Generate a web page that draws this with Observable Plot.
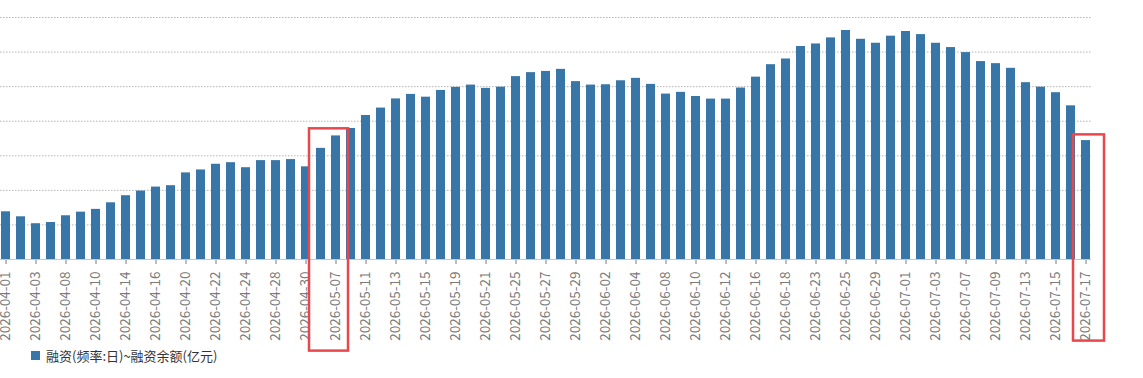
<!DOCTYPE html>
<html>
<head>
<meta charset="utf-8">
<script src="https://cdn.jsdelivr.net/npm/d3@7"></script>
<script src="https://cdn.jsdelivr.net/npm/@observablehq/plot@0.6"></script>
<style>
  html, body { margin: 0; padding: 0; background: #fff; }
  body { width: 1143px; height: 378px; overflow: hidden; font-family: "Noto Sans CJK SC", "Noto Sans", sans-serif; }
  #chart svg { display: block; }
  .legend { height: 30px; display: flex; align-items: center; padding-left: 31px; font-size: 13px; color: #333; }
  .legend .sw { width: 9px; height: 9px; background: #3776a6; margin-right: 6px; }
</style>
</head>
<body>
<div id="chart"></div>
<div class="legend"><span class="sw"></span><span>融资(频率:日)~融资余额(亿元)</span></div>
<script>
const dates = [
  "2026-04-01","2026-04-02","2026-04-03","2026-04-07","2026-04-08","2026-04-09","2026-04-10",
  "2026-04-13","2026-04-14","2026-04-15","2026-04-16","2026-04-17","2026-04-20","2026-04-21",
  "2026-04-22","2026-04-23","2026-04-24","2026-04-27","2026-04-28","2026-04-29","2026-04-30",
  "2026-05-06","2026-05-07","2026-05-08","2026-05-11","2026-05-12","2026-05-13","2026-05-14",
  "2026-05-15","2026-05-18","2026-05-19","2026-05-20","2026-05-21","2026-05-22","2026-05-25",
  "2026-05-26","2026-05-27","2026-05-28","2026-05-29","2026-06-01","2026-06-02","2026-06-03",
  "2026-06-04","2026-06-05","2026-06-08","2026-06-09","2026-06-10","2026-06-11","2026-06-12",
  "2026-06-15","2026-06-16","2026-06-17","2026-06-18","2026-06-22","2026-06-23","2026-06-24",
  "2026-06-25","2026-06-26","2026-06-29","2026-06-30","2026-07-01","2026-07-02","2026-07-03",
  "2026-07-06","2026-07-07","2026-07-08","2026-07-09","2026-07-10","2026-07-13","2026-07-14",
  "2026-07-15","2026-07-16","2026-07-17"
];
const values = [
  24276, 24247, 24207, 24214, 24253, 24274, 24290,
  24328, 24369, 24396, 24419, 24427, 24501, 24518,
  24551, 24560, 24531, 24572, 24572, 24578, 24536,
  24643, 24715, 24758, 24833, 24876, 24929, 24955,
  24939, 24978, 24996, 25009, 24990, 24997, 25058,
  25081, 25088, 25100, 25029, 25009, 25011, 25034,
  25048, 25013, 24957, 24967, 24943, 24928, 24928,
  24992, 25055, 25127, 25160, 25232, 25247, 25282,
  25325, 25274, 25251, 25292, 25319, 25301, 25251,
  25226, 25197, 25145, 25133, 25106, 25023, 24997,
  24965, 24889, 24688
];
const tickDates = [
  "2026-04-01","2026-04-03","2026-04-08","2026-04-10","2026-04-14","2026-04-16","2026-04-20",
  "2026-04-22","2026-04-24","2026-04-28","2026-04-30","2026-05-07","2026-05-11","2026-05-13",
  "2026-05-15","2026-05-19","2026-05-21","2026-05-25","2026-05-27","2026-05-29","2026-06-02",
  "2026-06-04","2026-06-08","2026-06-10","2026-06-12","2026-06-16","2026-06-18","2026-06-23",
  "2026-06-25","2026-06-29","2026-07-01","2026-07-03","2026-07-07","2026-07-09","2026-07-13",
  "2026-07-15","2026-07-17"
];
const gridValues = [24200, 24400, 24600, 24800, 25000, 25200, 25400];
const yBase = 24000;
const yTop = 25400;
// highlighted ranges (red boxes)
const boxStart = ["2026-05-06", "2026-07-17"];
const boxTop = [24756, 24721];
const boxBottom = [23470, 23528];

const data = dates.map((d, i) => ({date: d, value: values[i]}));
const boxes = boxStart.map((d, i) => ({date: d, top: boxTop[i], bottom: boxBottom[i], i}));

const chart = Plot.plot({
  width: 1143,
  height: 340,
  marginLeft: 0,
  marginRight: 52,
  marginTop: 17,
  marginBottom: 81,
  style: {fontFamily: '"Noto Sans CJK SC", "Noto Sans", sans-serif', fontSize: "13.5px", color: "#7a7a7a", background: "#fff", overflow: "visible"},
  x: {type: "band", domain: dates, range: [-5, 1096], padding: 0.4, tickRotate: -90, ticks: tickDates, tickSize: 5, tickPadding: 7, label: null},
  y: {domain: [yBase, yTop], axis: null},
  marks: [
    Plot.ruleY(gridValues, {stroke: "#b5b5b5", strokeDasharray: "1.5,1.5", strokeWidth: 1}),
    Plot.barY(data, {x: "date", y1: yBase, y2: "value", fill: "#3776a6"}),
    Plot.ruleY([yBase], {stroke: "#c8c8c8", strokeWidth: 1}),
    Plot.barY(boxes.filter(b => b.i === 0), {x: "date", y1: "bottom", y2: "top", fill: "none", stroke: "#e8484b", strokeWidth: 2.5, insetLeft: -7, insetRight: -23, clip: false}),
    Plot.barY(boxes.filter(b => b.i === 1), {x: "date", y1: "bottom", y2: "top", fill: "none", stroke: "#e8484b", strokeWidth: 2.5, insetLeft: -8, insetRight: -14, clip: false})
  ]
});
document.getElementById("chart").appendChild(chart);
</script>
</body>
</html>
